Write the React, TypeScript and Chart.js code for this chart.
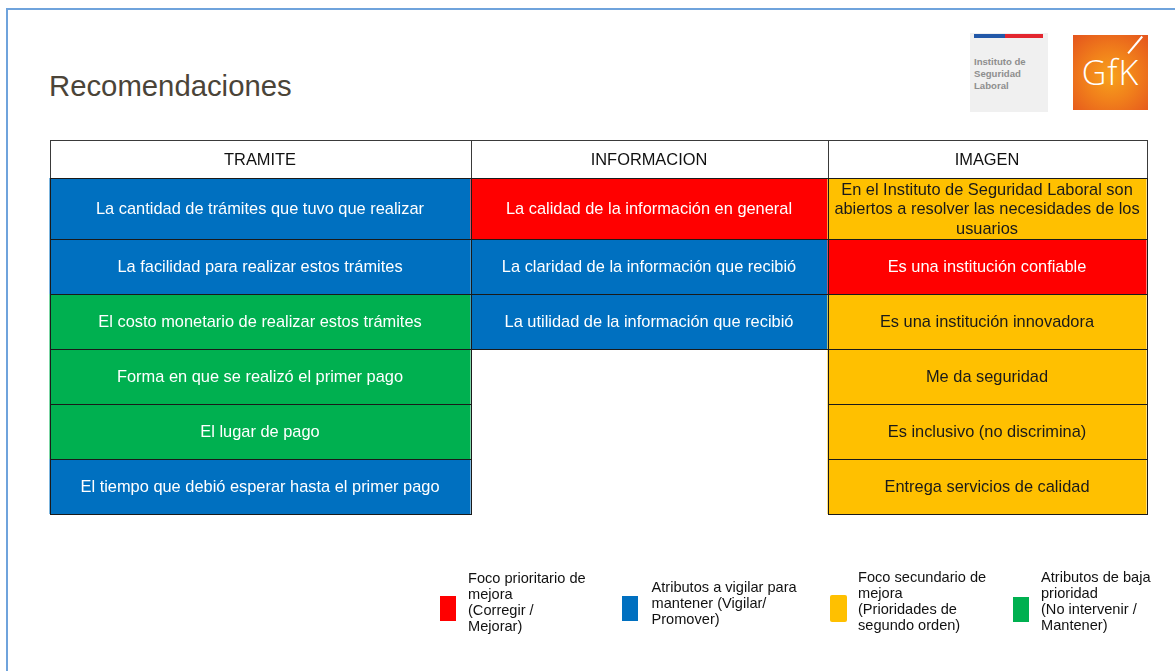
import React, { useEffect, useRef } from "react";
import { Chart, registerables } from "chart.js";

Chart.register(...registerables);

// ---------- DATA ----------
const pageTitle = "Recomendaciones";
const columnTitles = ["TRAMITE", "INFORMACION", "IMAGEN"];

const tramiteItems = [
  "La cantidad de trámites que tuvo que realizar",
  "La facilidad para realizar estos trámites",
  "El costo monetario de realizar estos trámites",
  "Forma en que se realizó el primer pago",
  "El lugar de pago",
  "El tiempo que debió esperar hasta el primer pago",
];
const tramitePriority = ["vigilar", "vigilar", "baja", "baja", "baja", "vigilar"];

const informacionItems = [
  "La calidad de la información en general",
  "La claridad de la información que recibió",
  "La utilidad de la información que recibió",
];
const informacionPriority = ["prioritario", "vigilar", "vigilar"];

const imagenItems = [
  "En el Instituto de Seguridad Laboral son abiertos a resolver las necesidades de los usuarios",
  "Es una institución confiable",
  "Es una institución innovadora",
  "Me da seguridad",
  "Es inclusivo (no discrimina)",
  "Entrega servicios de calidad",
];
const imagenPriority = ["secundario", "prioritario", "secundario", "secundario", "secundario", "secundario"];

const priorityKeys = ["prioritario", "vigilar", "secundario", "baja"];
const priorityLabels = [
  ["Foco prioritario de", "mejora", "(Corregir /", "Mejorar)"],
  ["Atributos a vigilar para", "mantener (Vigilar/", "Promover)"],
  ["Foco secundario de", "mejora", "(Prioridades de", "segundo orden)"],
  ["Atributos de baja", "prioridad", "(No intervenir /", "Mantener)"],
];

const logoText = ["Instituto de", "Seguridad", "Laboral"];

// ---------- STYLE / LAYOUT ----------
const priorityColors: Record<string, string> = {
  prioritario: "#FF0000",
  vigilar: "#0070C0",
  secundario: "#FFC000",
  baja: "#00B050",
};
const priorityTextColors: Record<string, string> = {
  prioritario: "#FFFFFF",
  vigilar: "#FFFFFF",
  secundario: "#1A1A1A",
  baja: "#FFFFFF",
};
const colWidths = [421, 357, 319];
const rowHeights = [38, 61, 55, 55, 55, 55, 55];
const FONT = '"Liberation Sans", Arial, Helvetica, sans-serif';

const legendPos = [
  { box: [440, 596, 16, 25], text: [468, 569.5] },
  { box: [622, 596, 16, 25], text: [651.5, 578.5] },
  { box: [830, 595, 17, 27], text: [858, 568.5] },
  { box: [1013, 597, 16, 25], text: [1041, 568.5] },
];

function wrap(ctx: CanvasRenderingContext2D, text: string, maxW: number): string[] {
  const words = text.split(" ");
  const lines: string[] = [];
  let cur = "";
  for (const w of words) {
    const t = cur ? cur + " " + w : w;
    if (ctx.measureText(t).width > maxW && cur) {
      lines.push(cur);
      cur = w;
    } else cur = t;
  }
  if (cur) lines.push(cur);
  return lines;
}

const tablePlugin = {
  id: "tableCells",
  beforeDatasetsDraw(chart: any) {
    const { ctx } = chart;
    const xs = chart.scales.x;
    const ys = chart.scales.y;
    const colEdges = [0];
    colWidths.forEach((w, i) => colEdges.push(colEdges[i] + w));
    const rowEdges = [0];
    rowHeights.forEach((h, i) => rowEdges.push(rowEdges[i] + h));
    const columns = [
      { items: tramiteItems, pr: tramitePriority },
      { items: informacionItems, pr: informacionPriority },
      { items: imagenItems, pr: imagenPriority },
    ];
    const cells: any[] = [];
    columns.forEach((col, c) => {
      const x0 = xs.getPixelForValue(colEdges[c]);
      const x1 = xs.getPixelForValue(colEdges[c + 1]);
      cells.push({ x0, x1, y0: ys.getPixelForValue(rowEdges[0]), y1: ys.getPixelForValue(rowEdges[1]), fill: "#FFFFFF", color: "#111111", text: columnTitles[c], border: "#3a3a3a" });
      col.items.forEach((t, r) => {
        cells.push({
          x0, x1,
          y0: ys.getPixelForValue(rowEdges[r + 1]),
          y1: ys.getPixelForValue(rowEdges[r + 2]),
          fill: priorityColors[col.pr[r]],
          color: priorityTextColors[col.pr[r]],
          text: t,
          border: "#1a1a1a",
        });
      });
    });
    ctx.save();
    cells.forEach((cl) => {
      ctx.fillStyle = cl.fill;
      ctx.fillRect(cl.x0, cl.y0, cl.x1 - cl.x0, cl.y1 - cl.y0);
    });
    ctx.lineWidth = 1;
    cells.forEach((cl) => {
      ctx.strokeStyle = cl.border;
      ctx.strokeRect(Math.round(cl.x0) + 0.5, Math.round(cl.y0) + 0.5, Math.round(cl.x1) - Math.round(cl.x0), Math.round(cl.y1) - Math.round(cl.y0));
    });
    ctx.font = `16.4px ${FONT}`;
    ctx.textAlign = "center";
    ctx.textBaseline = "middle";
    cells.forEach((cl) => {
      ctx.fillStyle = cl.color;
      const lines = wrap(ctx, cl.text, cl.x1 - cl.x0 - 8);
      const lh = 19.5;
      const cy = (cl.y0 + cl.y1) / 2 + 1;
      const cx = (cl.x0 + cl.x1) / 2;
      lines.forEach((ln, i) => {
        ctx.fillText(ln, cx, cy + (i - (lines.length - 1) / 2) * lh);
      });
    });
    ctx.restore();
  },
};

export default function App() {
  const canvasRef = useRef<HTMLCanvasElement | null>(null);

  useEffect(() => {
    if (!canvasRef.current) return;
    const totalW = colWidths.reduce((a, b) => a + b, 0);
    const totalH = rowHeights.reduce((a, b) => a + b, 0);
    const chart = new Chart(canvasRef.current, {
      type: "scatter",
      data: { datasets: [] },
      options: {
        animation: false,
        responsive: false,
        layout: { padding: { left: 49.5, top: 140, right: 28.5, bottom: 157 } },
        plugins: { legend: { display: false }, tooltip: { enabled: false } },
        scales: {
          x: { type: "linear", min: 0, max: totalW, display: false, offset: false, grid: { offset: false } },
          y: { type: "linear", min: 0, max: totalH, reverse: true, display: false, offset: false, grid: { offset: false } },
        },
      },
      plugins: [tablePlugin],
    });
    return () => chart.destroy();
  }, []);

  return (
    <div style={{ position: "absolute", left: 0, top: 0, width: 1175, height: 671, overflow: "hidden", background: "#ffffff", fontFamily: FONT }}>
      <div style={{ position: "absolute", left: 6, top: 8, width: 1400, height: 900, borderTop: "2px solid #6FA3DC", borderLeft: "2px solid #6FA3DC" }} />
      <div style={{ position: "absolute", left: 49, top: 71, fontSize: 29.3, lineHeight: "29px", color: "#4B4438", whiteSpace: "nowrap" }}>{pageTitle}</div>

      {/* ISL logo */}
      <div style={{ position: "absolute", left: 970, top: 33, width: 78, height: 79, background: "#F0F0F0" }} />
      <div style={{ position: "absolute", left: 974, top: 34, width: 31, height: 4, background: "#2258A8" }} />
      <div style={{ position: "absolute", left: 1005, top: 34, width: 38, height: 4, background: "#E3262F" }} />
      <div style={{ position: "absolute", left: 974, top: 56, fontSize: 9.6, lineHeight: "12px", fontWeight: 700, color: "#8E8E8E", whiteSpace: "pre" }}>
        {logoText.join("\n")}
      </div>

      {/* GfK logo */}
      <div style={{ position: "absolute", left: 1073, top: 35, width: 75, height: 75, background: "radial-gradient(circle at 50% 55%, #F7A11C 0%, #F1801B 45%, #E4541D 100%)", overflow: "hidden" }}>
        <div style={{ position: "absolute", left: 0, top: 17, width: 75, textAlign: "center", color: "#FFFFFF", fontSize: 34, lineHeight: "40px", fontFamily: '"Open Sans", Lato, sans-serif', fontWeight: 300, letterSpacing: 1 }}>GfK</div>
        <div style={{ position: "absolute", left: 51, top: 9, width: 22, height: 1.5, background: "#FFFFFF", transform: "rotate(-50deg)" }} />
      </div>

      <canvas ref={canvasRef} width={1175} height={671} style={{ position: "absolute", left: 0, top: 0, display: "block" }} />

      {priorityKeys.map((k, i) => (
        <React.Fragment key={k}>
          <div style={{ position: "absolute", left: legendPos[i].box[0], top: legendPos[i].box[1], width: legendPos[i].box[2], height: legendPos[i].box[3], background: priorityColors[k], borderRadius: k === "secundario" ? 2 : 0 }} />
          <div style={{ position: "absolute", left: legendPos[i].text[0], top: legendPos[i].text[1], fontSize: 14.6, lineHeight: "16.3px", color: "#111111", whiteSpace: "pre" }}>
            {priorityLabels[i].join("\n")}
          </div>
        </React.Fragment>
      ))}
    </div>
  );
}
